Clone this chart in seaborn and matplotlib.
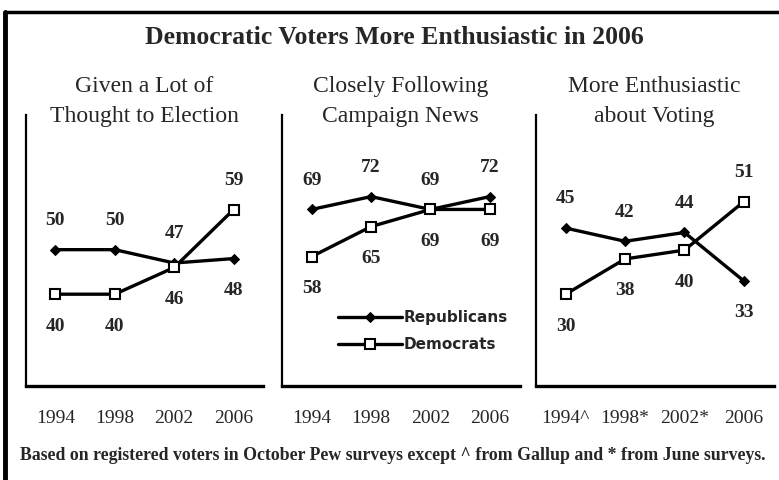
import numpy as np
import pandas as pd
import matplotlib.pyplot as plt
import seaborn as sns
from matplotlib.lines import Line2D

# data
years = ["1994", "1998", "2002", "2006"]
years_enth = ["1994^", "1998*", "2002*", "2006"]
panel_titles = ["Given a Lot of\nThought to Election",
                "Closely Following\nCampaign News",
                "More Enthusiastic\nabout Voting"]
rep_thought = [50, 50, 47, 48]
dem_thought = [40, 40, 46, 59]
rep_news = [69, 72, 69, 72]
dem_news = [58, 65, 69, 69]
rep_enth = [45, 42, 44, 33]
dem_enth = [30, 38, 40, 51]

sns.set_theme(style="white")
plt.rcParams['font.family'] = ['Liberation Serif', 'DejaVu Serif']

fig = plt.figure(figsize=(7.79, 4.80), dpi=100)

panels = [
    (rep_thought, dem_thought, years, (19.4, 80.2),
     ['up', 'up', 'up', 'down'], ['down', 'down', 'down', 'up']),
    (rep_news, dem_news, years, (27.8, 91.0),
     ['up', 'up', 'up', 'up'], ['down', 'down', 'down', 'down']),
    (rep_enth, dem_enth, years_enth, (9.2, 70.6),
     ['up', 'up', 'up', 'down'], ['down', 'down', 'down', 'up']),
]
lefts = [0.033, 0.362, 0.688]

for i, (rep, dem, labels, ylim, rep_pos, dem_pos) in enumerate(panels):
    ax = fig.add_axes([lefts[i], 0.196, 0.305, 0.564])
    df = pd.DataFrame({'x': list(range(4)) * 2,
                       'value': rep + dem,
                       'party': ['Republicans'] * 4 + ['Democrats'] * 4})
    sns.lineplot(data=df[df.party == 'Republicans'], x='x', y='value', ax=ax,
                 color='black', lw=2.4, marker='D', markersize=5.5,
                 markerfacecolor='black', markeredgecolor='black',
                 label='Republicans', legend=False)
    sns.lineplot(data=df[df.party == 'Democrats'], x='x', y='value', ax=ax,
                 color='black', lw=2.4, marker='s', markersize=7.5,
                 markerfacecolor='white', markeredgecolor='black', mew=1.5,
                 label='Democrats', legend=False)

    for j in range(4):
        for val, pos in ((rep[j], rep_pos[j]), (dem[j], dem_pos[j])):
            off = 21 if pos == 'up' else -23
            ax.annotate(str(val), (j, val), xytext=(0, off), textcoords='offset points',
                        ha='center', va='center', fontsize=14, fontweight='bold')

    ax.set_xlim(-0.5, 3.5)
    ax.set_ylim(*ylim)
    ax.set_xticks(range(4))
    ax.set_xticklabels(labels, fontsize=14)
    ax.set_yticks([])
    ax.tick_params(axis='x', length=0, pad=17)
    ax.set_xlabel('')
    ax.set_ylabel('')
    for s in ['top', 'right']:
        ax.spines[s].set_visible(False)
    ax.spines['left'].set_color('black')
    ax.spines['left'].set_linewidth(1.6)
    ax.spines['bottom'].set_color('black')
    ax.spines['bottom'].set_linewidth(2.4)
    ax.text(0.5, 1.05, panel_titles[i], transform=ax.transAxes, ha='center',
            va='center', fontsize=17, linespacing=1.6)

    if i == 1:
        ax.legend(loc='lower right', bbox_to_anchor=(1.01, 0.075), frameon=False,
                  handlelength=4.2, handletextpad=0.15, labelspacing=0.75,
                  prop={'family': 'DejaVu Sans', 'weight': 'bold', 'size': 11})

fig.text(0.506, 0.921, "Democratic Voters More Enthusiastic in 2006", ha='center',
         va='center', fontsize=18.5, fontweight='bold')
fig.text(0.026, 0.052, "Based on registered voters in October Pew surveys except ^ from "
         "Gallup and * from June surveys.", ha='left', va='center', fontsize=12.8,
         fontweight='bold')

# outer frame on the left and top
fig.add_artist(Line2D([0.007, 0.007], [0, 0.975], transform=fig.transFigure,
                      color='black', lw=3.5))
fig.add_artist(Line2D([0.007, 1.0], [0.975, 0.975], transform=fig.transFigure,
                      color='black', lw=2.5))

fig.savefig('out.png', dpi=100)
